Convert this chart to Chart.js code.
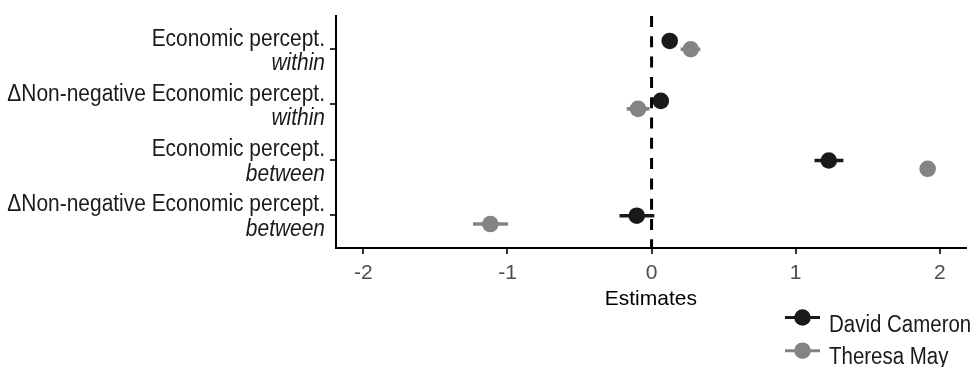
<!DOCTYPE html>
<html>
<head>
<meta charset="utf-8">
<script src="https://cdn.jsdelivr.net/npm/chart.js@4.4.1/dist/chart.umd.min.js"></script>
<style>
  html, body { margin: 0; padding: 0; background: #fff; }
  #wrap { width: 974px; height: 367px; position: relative; }
</style>
</head>
<body>
<div id="wrap"><canvas id="chart"></canvas></div>
<script>
// category labels (top to bottom), second line is drawn in italics
const categories = ['Economic percept.', '\u0394Non-negative Economic percept.', 'Economic percept.', '\u0394Non-negative Economic percept.'];
const subLabels = ['within', 'within', 'between', 'between'];
const categoryPos = [1, 2, 3, 4];
const xTicks = [-2, -1, 0, 1, 2];

const seriesNames = ['David Cameron', 'Theresa May'];
const seriesColors = ['#1a1a1a', '#848484'];

// point estimates and intervals
const cameronEst = [0.126, 0.064, 1.230, -0.103];
const cameronLow = [0.090, 0.030, 1.133, -0.220];
const cameronHigh = [0.160, 0.100, 1.329, 0.017];
const cameronDodge = [-0.148, -0.063, 0.016, 0.016];

const mayEst = [0.272, -0.094, 1.916, -1.119];
const mayLow = [0.204, -0.170, 1.880, -1.237];
const mayHigh = [0.336, -0.017, 1.950, -0.999];
const mayDodge = [0.002, 0.081, 0.166, 0.166];

const FONT = "'Liberation Sans', Arial, Helvetica, sans-serif";

function points(est, dodge) {
    return est.map((v, i) => ({ x: v, y: categoryPos[i] + dodge[i] }));
}
function ranges(lo, hi, dodge) {
    return lo.map((v, i) => ({ x: [v, hi[i]], y: categoryPos[i] + dodge[i] }));
}

// narrow text, like the original helvetica rendering
function squeezedText(ctx, text, x, y, font, color, align, sx) {
    ctx.save();
    ctx.font = font;
    ctx.fillStyle = color;
    ctx.textAlign = align || 'right';
    ctx.textBaseline = 'alphabetic';
    ctx.translate(x, y);
    ctx.scale(sx || 0.91, 1);
    ctx.fillText(text, 0, 0);
    ctx.restore();
}

const yLabelPlugin = {
    id: 'yLabels',
    afterDraw(chart) {
        const ctx = chart.ctx;
        const yScale = chart.scales.y;
        categories.forEach((label, i) => {
            const y = yScale.getPixelForValue(categoryPos[i]);
            squeezedText(ctx, label, 325, y - 3.5, '23px ' + FONT, '#1a1a1a');
            squeezedText(ctx, subLabels[i], 325, y + 21, 'italic 23px ' + FONT, '#1a1a1a');
        });
    }
};

const legendPlugin = {
    id: 'pointrangeLegend',
    afterDraw(chart) {
        const ctx = chart.ctx;
        seriesNames.forEach((name, i) => {
            const ky = 317.5 + i * 33.2;
            ctx.save();
            ctx.strokeStyle = seriesColors[i];
            ctx.fillStyle = seriesColors[i];
            ctx.lineWidth = 3;
            ctx.beginPath();
            ctx.moveTo(785, ky);
            ctx.lineTo(820, ky);
            ctx.stroke();
            ctx.beginPath();
            ctx.arc(802.5, ky, 8.3, 0, Math.PI * 2);
            ctx.fill();
            ctx.restore();
            squeezedText(ctx, name, 829, 331.7 + i * 32.5, '23px ' + FONT, '#1a1a1a', 'left', 0.89);
        });
    }
};

new Chart(document.getElementById('chart'), {
    type: 'scatter',
    data: {
        datasets: [
            {
                type: 'line',
                data: [{ x: 0, y: 0.4 }, { x: 0, y: 4.6 }],
                borderColor: '#000',
                borderWidth: 3,
                borderDash: [11, 9.3],
                pointRadius: 0,
                order: 10
            },
            {
                type: 'bar',
                indexAxis: 'y',
                label: seriesNames[0] + ' CI',
                data: ranges(cameronLow, cameronHigh, cameronDodge),
                backgroundColor: seriesColors[0],
                barThickness: 3,
                grouped: false,
                borderWidth: 0,
                order: 5
            },
            {
                type: 'bar',
                indexAxis: 'y',
                label: seriesNames[1] + ' CI',
                data: ranges(mayLow, mayHigh, mayDodge),
                backgroundColor: seriesColors[1],
                barThickness: 3,
                grouped: false,
                borderWidth: 0,
                order: 4
            },
            {
                label: seriesNames[0],
                data: points(cameronEst, cameronDodge),
                backgroundColor: seriesColors[0],
                pointRadius: 8.3,
                pointBorderWidth: 0,
                order: 2
            },
            {
                label: seriesNames[1],
                data: points(mayEst, mayDodge),
                backgroundColor: seriesColors[1],
                pointRadius: 8.3,
                pointBorderWidth: 0,
                order: 1
            }
        ]
    },
    options: {
        responsive: true,
        maintainAspectRatio: false,
        devicePixelRatio: 1,
        animation: false,
        layout: { padding: { left: 0, right: 8, top: 16, bottom: 55.5 } },
        plugins: {
            legend: { display: false },
            tooltip: { enabled: false }
        },
        scales: {
            x: {
                type: 'linear',
                min: -2.19,
                max: 2.18,
                offset: false,
                afterBuildTicks: s => { s.ticks = xTicks.map(v => ({ value: v })); },
                afterFit: s => { s.height = 63.5; },
                ticks: {
                    color: '#4d4d4d',
                    font: { family: FONT, size: 21 },
                    padding: 7,
                    maxRotation: 0
                },
                grid: { offset: false, drawOnChartArea: false, drawTicks: true, tickLength: 6, color: '#333', lineWidth: 2 },
                border: { display: true, color: '#000', width: 2 },
                title: {
                    display: true,
                    text: 'Estimates',
                    color: '#000',
                    font: { family: FONT, size: 21 },
                    padding: { top: 0, bottom: 0 }
                }
            },
            y: {
                type: 'linear',
                reverse: true,
                min: 0.4,
                max: 4.6,
                offset: false,
                afterBuildTicks: s => { s.ticks = categoryPos.map(v => ({ value: v })); },
                afterFit: s => { s.width = 336; },
                ticks: { display: false },
                grid: { offset: false, drawOnChartArea: false, drawTicks: true, tickLength: 6, color: '#333', lineWidth: 2 },
                border: { display: true, color: '#000', width: 2 }
            }
        }
    },
    plugins: [yLabelPlugin, legendPlugin]
});
</script>
</body>
</html>
